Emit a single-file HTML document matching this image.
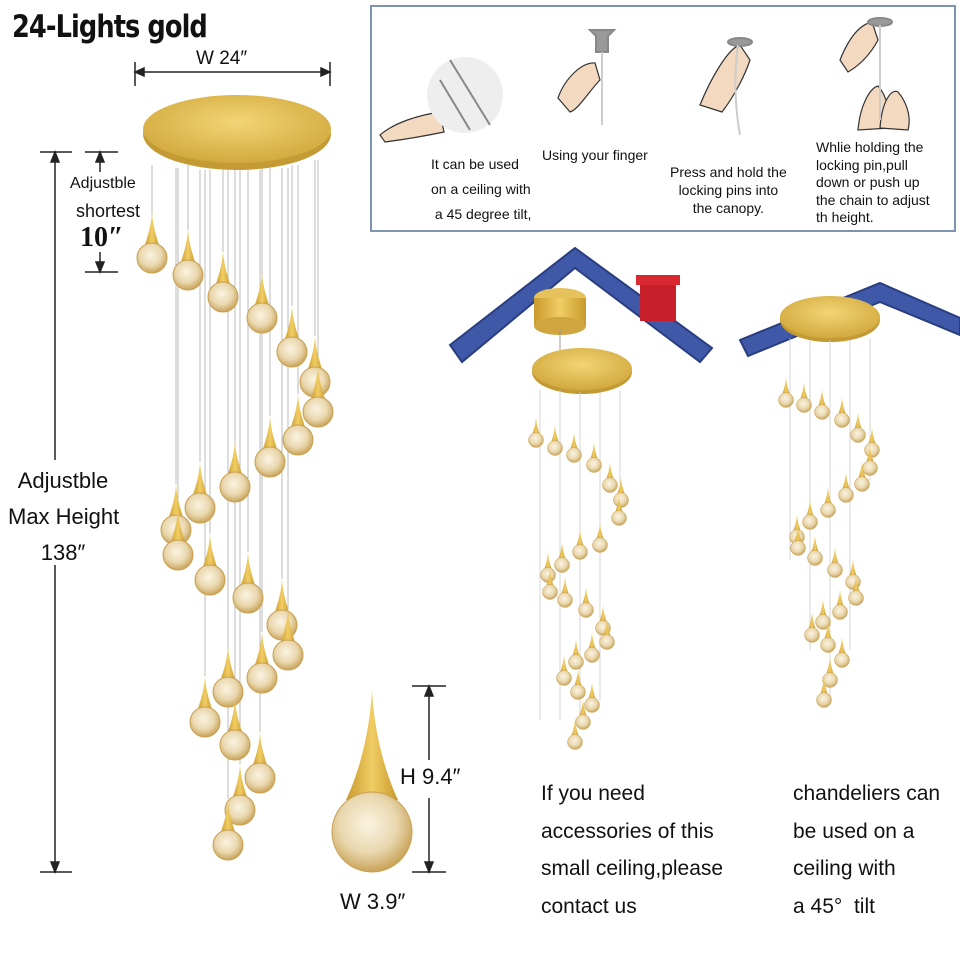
<!DOCTYPE html>
<html><head><meta charset="utf-8"><style>
html,body{margin:0;padding:0;background:#fff;}
body{width:960px;height:960px;position:relative;overflow:hidden;font-family:"Liberation Sans",sans-serif;}
.t{position:absolute;color:#111;white-space:nowrap;}
</style></head><body>
<svg width="960" height="960" style="position:absolute;left:0;top:0">
<defs>
<radialGradient id="ball" cx="0.45" cy="0.4" r="0.6"><stop offset="0" stop-color="#fbf4e2"/><stop offset="0.6" stop-color="#e9d7ae"/><stop offset="1" stop-color="#c9a45a"/></radialGradient>
<linearGradient id="gold" x1="0" x2="1"><stop offset="0" stop-color="#c99a2e"/><stop offset="0.5" stop-color="#f0cd63"/><stop offset="1" stop-color="#c99a2e"/></linearGradient>
<radialGradient id="disc" cx="0.5" cy="0.4" r="0.6"><stop offset="0" stop-color="#f3d575"/><stop offset="1" stop-color="#d2a93e"/></radialGradient>
<g id="d"><path d="M0,-46 C1,-30 5,-20 8,-10 L-8,-10 C-5,-20 -1,-30 0,-46Z" fill="url(#gold)"/><circle r="15" fill="url(#ball)" stroke="#c8a050" stroke-width="1"/></g>
</defs>
<g stroke="#bbb" stroke-width="1">
<line x1="152" y1="165" x2="152" y2="215"/><line x1="188" y1="165" x2="188" y2="230"/><line x1="223" y1="168" x2="223" y2="252"/><line x1="262" y1="168" x2="262" y2="272"/><line x1="292" y1="165" x2="292" y2="306"/><line x1="315" y1="160" x2="315" y2="336"/><line x1="318" y1="160" x2="318" y2="366"/><line x1="298" y1="165" x2="298" y2="394"/><line x1="270" y1="168" x2="270" y2="416"/><line x1="235" y1="170" x2="235" y2="441"/><line x1="200" y1="170" x2="200" y2="462"/><line x1="176" y1="168" x2="176" y2="484"/><line x1="178" y1="168" x2="178" y2="509"/><line x1="210" y1="170" x2="210" y2="534"/><line x1="248" y1="170" x2="248" y2="552"/><line x1="282" y1="168" x2="282" y2="579"/><line x1="288" y1="168" x2="288" y2="609"/><line x1="262" y1="170" x2="262" y2="632"/><line x1="228" y1="170" x2="228" y2="646"/><line x1="205" y1="170" x2="205" y2="676"/><line x1="235" y1="170" x2="235" y2="699"/><line x1="260" y1="170" x2="260" y2="732"/><line x1="240" y1="170" x2="240" y2="764"/><line x1="228" y1="170" x2="228" y2="799"/>
</g>
<ellipse cx="237" cy="134" rx="94" ry="36" fill="#c49a35"/>
<ellipse cx="237" cy="129" rx="94" ry="34" fill="url(#disc)"/>
<g>
<use href="#d" x="152" y="258"/><use href="#d" x="188" y="275"/><use href="#d" x="223" y="297"/><use href="#d" x="262" y="318"/><use href="#d" x="292" y="352"/><use href="#d" x="315" y="382"/><use href="#d" x="318" y="412"/><use href="#d" x="298" y="440"/><use href="#d" x="270" y="462"/><use href="#d" x="235" y="487"/><use href="#d" x="200" y="508"/><use href="#d" x="176" y="530"/><use href="#d" x="178" y="555"/><use href="#d" x="210" y="580"/><use href="#d" x="248" y="598"/><use href="#d" x="282" y="625"/><use href="#d" x="288" y="655"/><use href="#d" x="262" y="678"/><use href="#d" x="228" y="692"/><use href="#d" x="205" y="722"/><use href="#d" x="235" y="745"/><use href="#d" x="260" y="778"/><use href="#d" x="240" y="810"/><use href="#d" x="228" y="845"/>
</g>
<g stroke="#222" stroke-width="1.5" fill="#222">
<line x1="135" y1="72" x2="330" y2="72"/><path d="M135,72 l9,-4 v8z M330,72 l-9,-4 v8z"/>
<line x1="135" y1="62" x2="135" y2="86"/><line x1="330" y1="62" x2="330" y2="86"/>
<line x1="40" y1="152" x2="72" y2="152"/><line x1="40" y1="872" x2="72" y2="872"/>
<line x1="55" y1="152" x2="55" y2="460"/><line x1="55" y1="565" x2="55" y2="872"/>
<path d="M55,152 l-4,10 h8z M55,872 l-4,-10 h8z"/>
<line x1="85" y1="152" x2="118" y2="152"/><line x1="85" y1="272" x2="118" y2="272"/>
<line x1="100" y1="152" x2="100" y2="172"/><line x1="100" y1="252" x2="100" y2="272"/>
<path d="M100,152 l-4,10 h8z M100,272 l-4,-10 h8z"/>
<line x1="412" y1="686" x2="446" y2="686"/><line x1="412" y1="872" x2="446" y2="872"/>
<line x1="429" y1="686" x2="429" y2="760"/><line x1="429" y1="798" x2="429" y2="872"/>
<path d="M429,686 l-4,10 h8z M429,872 l-4,-10 h8z"/>
</g>
<path d="M372,690 C374,730 384,770 398,800 L346,800 C360,770 370,730 372,690Z" fill="url(#gold)"/>
<circle cx="372" cy="832" r="40" fill="url(#ball)" stroke="#c8a050"/>
<rect x="371" y="6" width="584" height="225" fill="#fff" stroke="#7d93b0" stroke-width="2"/>
<g fill="#f2d9bf" stroke="#333" stroke-width="1.2">
<path d="M380,135 C395,122 420,115 440,112 L444,132 C425,136 400,140 385,142Z"/>
<path d="M558,98 C565,78 582,62 595,63 L600,80 C590,90 578,110 570,112Z"/>
<path d="M700,105 C710,80 728,48 740,45 L750,60 C745,75 735,95 722,112Z"/>
<path d="M840,60 C848,40 858,25 872,22 L878,40 C870,55 860,65 848,72Z"/>
<path d="M858,130 C860,105 870,88 878,86 C886,95 890,110 890,128Z"/>
<path d="M880,128 C882,100 892,88 898,92 C905,100 912,115 908,130Z"/>
</g>
<circle cx="465" cy="95" r="38" fill="#eee"/>
<g stroke="#888" stroke-width="2" fill="#999">
<line x1="450" y1="60" x2="490" y2="125"/><line x1="440" y1="80" x2="470" y2="130"/>
<path d="M590,30 h24 l-6,6 v16 h-12 v-16z"/><line x1="602" y1="52" x2="602" y2="125" stroke="#ccc"/>
<ellipse cx="740" cy="42" rx="12" ry="4"/><path d="M738,45 Q732,90 740,135" fill="none" stroke="#ccc"/>
<ellipse cx="880" cy="22" rx="12" ry="4"/><line x1="880" y1="25" x2="880" y2="120" stroke="#ccc"/>
</g>
<path d="M450,345 L575,248 L712,348 L700,362 L575,268 L462,362Z" fill="#3f58a8" stroke="#2a3d80" stroke-width="2"/>
<rect x="640" y="277" width="36" height="44" fill="#c8202a"/><rect x="636" y="275" width="44" height="10" fill="#d9282f"/>
<path d="M740,340 L880,283 L960,318 L960,335 L880,302 L748,356Z" fill="#3f58a8" stroke="#2a3d80" stroke-width="2"/>
<ellipse cx="560" cy="298" rx="26" ry="10" fill="#e6c25c"/><rect x="534" y="298" width="52" height="28" fill="url(#gold)"/><ellipse cx="560" cy="326" rx="26" ry="9" fill="#cfa540"/>
<line x1="560" y1="330" x2="560" y2="350" stroke="#999"/>
<ellipse cx="582" cy="372" rx="50" ry="22" fill="#c49a35"/><ellipse cx="582" cy="369" rx="50" ry="21" fill="url(#disc)"/>
<g stroke="#ccc" stroke-width="0.8"><line x1="540" y1="390" x2="540" y2="720"/><line x1="560" y1="390" x2="560" y2="720"/><line x1="580" y1="392" x2="580" y2="720"/><line x1="600" y1="392" x2="600" y2="700"/><line x1="620" y1="390" x2="620" y2="520"/></g>
<g>
<use href="#d" transform="translate(536,440) scale(0.5)"/><use href="#d" transform="translate(555,448) scale(0.5)"/><use href="#d" transform="translate(574,455) scale(0.5)"/><use href="#d" transform="translate(594,465) scale(0.5)"/><use href="#d" transform="translate(610,485) scale(0.5)"/><use href="#d" transform="translate(621,500) scale(0.5)"/><use href="#d" transform="translate(619,518) scale(0.5)"/><use href="#d" transform="translate(600,545) scale(0.5)"/><use href="#d" transform="translate(580,552) scale(0.5)"/><use href="#d" transform="translate(562,565) scale(0.5)"/><use href="#d" transform="translate(548,575) scale(0.5)"/><use href="#d" transform="translate(550,592) scale(0.5)"/><use href="#d" transform="translate(565,600) scale(0.5)"/><use href="#d" transform="translate(586,610) scale(0.5)"/><use href="#d" transform="translate(603,628) scale(0.5)"/><use href="#d" transform="translate(607,642) scale(0.5)"/><use href="#d" transform="translate(592,655) scale(0.5)"/><use href="#d" transform="translate(576,662) scale(0.5)"/><use href="#d" transform="translate(564,678) scale(0.5)"/><use href="#d" transform="translate(578,692) scale(0.5)"/><use href="#d" transform="translate(592,705) scale(0.5)"/><use href="#d" transform="translate(583,722) scale(0.5)"/><use href="#d" transform="translate(575,742) scale(0.5)"/>
</g>
<ellipse cx="830" cy="320" rx="50" ry="22" fill="#c49a35"/><ellipse cx="830" cy="317" rx="50" ry="21" fill="url(#disc)"/>
<g stroke="#ccc" stroke-width="0.8"><line x1="790" y1="338" x2="790" y2="560"/><line x1="810" y1="340" x2="810" y2="650"/><line x1="830" y1="340" x2="830" y2="700"/><line x1="850" y1="340" x2="850" y2="650"/><line x1="870" y1="338" x2="870" y2="480"/></g>
<g>
<use href="#d" transform="translate(786,400) scale(0.5)"/><use href="#d" transform="translate(804,405) scale(0.5)"/><use href="#d" transform="translate(822,412) scale(0.5)"/><use href="#d" transform="translate(842,420) scale(0.5)"/><use href="#d" transform="translate(858,435) scale(0.5)"/><use href="#d" transform="translate(872,450) scale(0.5)"/><use href="#d" transform="translate(870,468) scale(0.5)"/><use href="#d" transform="translate(862,484) scale(0.5)"/><use href="#d" transform="translate(846,495) scale(0.5)"/><use href="#d" transform="translate(828,510) scale(0.5)"/><use href="#d" transform="translate(810,522) scale(0.5)"/><use href="#d" transform="translate(797,537) scale(0.5)"/><use href="#d" transform="translate(798,548) scale(0.5)"/><use href="#d" transform="translate(815,558) scale(0.5)"/><use href="#d" transform="translate(835,570) scale(0.5)"/><use href="#d" transform="translate(853,582) scale(0.5)"/><use href="#d" transform="translate(856,598) scale(0.5)"/><use href="#d" transform="translate(840,612) scale(0.5)"/><use href="#d" transform="translate(823,622) scale(0.5)"/><use href="#d" transform="translate(812,635) scale(0.5)"/><use href="#d" transform="translate(828,645) scale(0.5)"/><use href="#d" transform="translate(842,660) scale(0.5)"/><use href="#d" transform="translate(830,680) scale(0.5)"/><use href="#d" transform="translate(824,700) scale(0.5)"/>
</g>
</svg>
<div class="t" style="left:12px;top:9px;font-size:31px;font-weight:bold;font-family:'DejaVu Sans Condensed','DejaVu Sans',sans-serif;letter-spacing:-1px;transform:scaleX(0.92);transform-origin:left top;">24-Lights gold</div>
<div class="t" style="left:196px;top:48px;font-size:19px;">W 24″</div>
<div class="t" style="left:70px;top:175px;font-size:16px;">Adjustble</div>
<div class="t" style="left:76px;top:201px;font-size:18px;">shortest</div>
<div class="t" style="left:80px;top:222px;font-size:28px;font-weight:bold;font-family:'Liberation Serif',serif;">10″</div>
<div class="t" style="left:8px;top:463px;font-size:22px;line-height:36px;text-align:center;width:110px;">Adjustble<br>Max Height<br>138″</div>
<div class="t" style="left:400px;top:764px;font-size:22px;">H 9.4″</div>
<div class="t" style="left:340px;top:889px;font-size:22px;">W 3.9″</div>
<div class="t" style="left:431px;top:152px;font-size:14px;line-height:25px;">It can be used<br>on a ceiling with<br>&nbsp;a 45 degree tilt,</div>
<div class="t" style="left:542px;top:147px;font-size:14px;">Using your finger</div>
<div class="t" style="left:670px;top:163px;font-size:14px;line-height:18px;text-align:center;">Press and hold the<br>locking pins into<br>the canopy.</div>
<div class="t" style="left:816px;top:139px;font-size:14px;line-height:17.5px;">Whlie holding the<br>locking pin,pull<br>down or push up<br>the chain to adjust<br>th height.</div>
<div class="t" style="left:541px;top:775px;font-size:21px;line-height:37.5px;">If you need<br>accessories of this<br>small ceiling,please<br>contact us</div>
<div class="t" style="left:793px;top:775px;font-size:21px;line-height:37.5px;">chandeliers can<br>be used on a<br>ceiling with<br>a 45°&nbsp; tilt</div>
</body></html>
